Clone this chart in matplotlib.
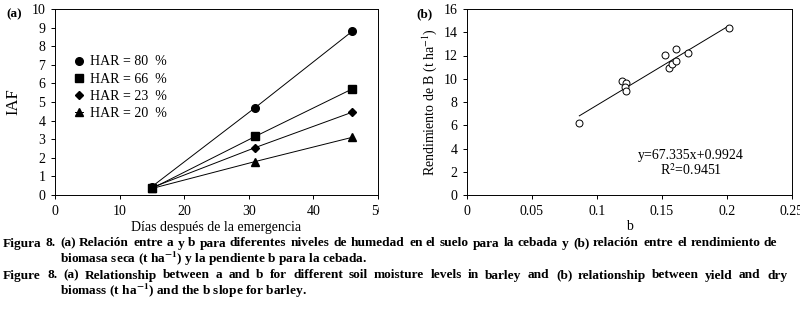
import matplotlib
matplotlib.use("Agg")
import matplotlib.pyplot as plt
from matplotlib.transforms import Bbox, TransformedBbox

plt.rcParams['font.family'] = ['Liberation Serif', 'DejaVu Serif']
plt.rcParams['mathtext.fontset'] = 'stix'

# Panel (a) data
days = [15, 31, 46]
har_labels = ["HAR = 80  %", "HAR = 66  %", "HAR = 23  %", "HAR = 20  %"]
har_markers = ['o', 's', 'D', '^']
iaf_80 = [0.45, 4.7, 8.8]
iaf_66 = [0.35, 3.15, 5.7]
iaf_23 = [0.40, 2.55, 4.45]
iaf_20 = [0.35, 1.8, 3.1]
iaf_series = [iaf_80, iaf_66, iaf_23, iaf_20]

# Panel (b) data
b_slope = [0.0864, 0.1195, 0.1220, 0.1213, 0.1223, 0.1523, 0.1554, 0.1580, 0.1610, 0.1608, 0.1700, 0.2015]
yield_B = [6.2, 9.77, 9.63, 9.28, 8.97, 12.07, 10.95, 11.29, 11.55, 12.6, 12.2, 14.4]
fit_slope = 67.335
fit_intercept = 0.9924
fit_r2 = 0.9451

fig = plt.figure(figsize=(8, 3.22), dpi=100)
W, H = 800, 322

def ax_rect(l, r, t, b):
    return [l / W, (H - b) / H, (r - l) / W, (b - t) / H]

fs = 10

# ---------- Panel (a)
ax1 = fig.add_axes(ax_rect(55, 378, 9, 195))
for ys, m, lab in zip(iaf_series, har_markers, har_labels):
    ms = 5.5 if m != 'D' else 4.5
    ax1.plot(days, ys, color='black', lw=0.7, marker=m, ms=ms,
             mfc='black', mec='black', label=lab)
ax1.set_xlim(0, 50)
ax1.set_ylim(0, 10)
ax1.set_xticks(range(0, 51, 10))
ax1.set_yticks(range(0, 11))
ax1.set_xlabel("Días después de la emergencia", fontsize=fs, labelpad=2)
ax1.set_ylabel("IAF", fontsize=12, labelpad=7)
leg = ax1.legend(loc='upper left', bbox_to_anchor=(0.045, 0.78), frameon=False,
                 handlelength=0.6, handletextpad=0.5, labelspacing=0.3,
                 fontsize=fs, borderaxespad=0)
ax1.text(-0.15, 0.97, "(a)", transform=ax1.transAxes, fontsize=9.5,
         fontweight='bold', ha='left', va='center')

# ---------- Panel (b)
ax2 = fig.add_axes(ax_rect(467, 792, 9, 195))
ax2.plot(b_slope, yield_B, linestyle='none', marker='o', ms=5,
         mfc='white', mec='black', mew=0.7, zorder=3)
xf = [min(b_slope), max(b_slope)]
ax2.plot(xf, [fit_slope * x + fit_intercept for x in xf], color='black', lw=0.7, zorder=2)
ax2.set_xlim(0, 0.25)
ax2.set_ylim(0, 16)
ax2.set_xticks([0, 0.05, 0.1, 0.15, 0.2, 0.25])
ax2.set_xticklabels(["0", "0.05", "0.1", "0.15", "0.2", "0.25"])
ax2.set_yticks(range(0, 17, 2))
ax2.set_xlabel("b", fontsize=fs, labelpad=2)
ax2.set_ylabel("Rendimiento de B (t ha$^{-1}$)", fontsize=fs, labelpad=3)
ax2.text(0.69, 0.215, "y=67.335x+0.9924", transform=ax2.transAxes,
         fontsize=fs, ha='center', va='center')
ax2.text(0.69, 0.134, "R$^2$=0.9451", transform=ax2.transAxes,
         fontsize=fs, ha='center', va='center')
ax2.text(-0.155, 0.97, "(b)", transform=ax2.transAxes, fontsize=9.5,
         fontweight='bold', ha='left', va='center')

for ax in (ax1, ax2):
    ax.tick_params(direction='out', length=3, width=0.7, labelsize=fs, pad=4)
    for s in ax.spines.values():
        s.set_linewidth(0.7)

# clip the last tick label of panel (a) like the reference
clip = TransformedBbox(Bbox([[0, 0], [379 / W, 1]]), fig.transFigure)
for lab in ax1.get_xticklabels():
    lab.set_clip_box(clip)
    lab.set_clip_on(True)

# ---------- Caption
cfs = 9.6
renderer = fig.canvas.get_renderer()

def justified(x0, x1, y, text):
    words = text.split(' ')
    objs = [fig.text(0, 1 - y / H, w, fontsize=cfs, fontweight='bold',
                     ha='left', va='baseline') for w in words]
    widths = [o.get_window_extent(renderer).width for o in objs]
    gap = (x1 - x0 - sum(widths)) / (len(words) - 1)
    x = x0
    for o, w in zip(objs, widths):
        o.set_x(round(x) / W)
        x += w + gap

justified(3, 778, 246.5, "Figura 8. (a) Relación entre a y b para diferentes niveles de humedad en el suelo para la cebada y (b) relación entre el rendimiento de")
fig.text(60 / W, 1 - 262.5 / H, "biomasa seca (t ha$^{\\mathbf{-1}}$) y la pendiente b para la cebada.",
         fontsize=cfs, fontweight='bold', ha='left', va='baseline')
justified(3, 787, 278.5, "Figure 8. (a) Relationship between a and b for different soil moisture levels in barley and (b) relationship between yield and dry")
fig.text(60 / W, 1 - 295.5 / H, "biomass (t ha$^{\\mathbf{-1}}$) and the b slope for barley.",
         fontsize=cfs, fontweight='bold', ha='left', va='baseline')

fig.savefig("out.png", dpi=100)
